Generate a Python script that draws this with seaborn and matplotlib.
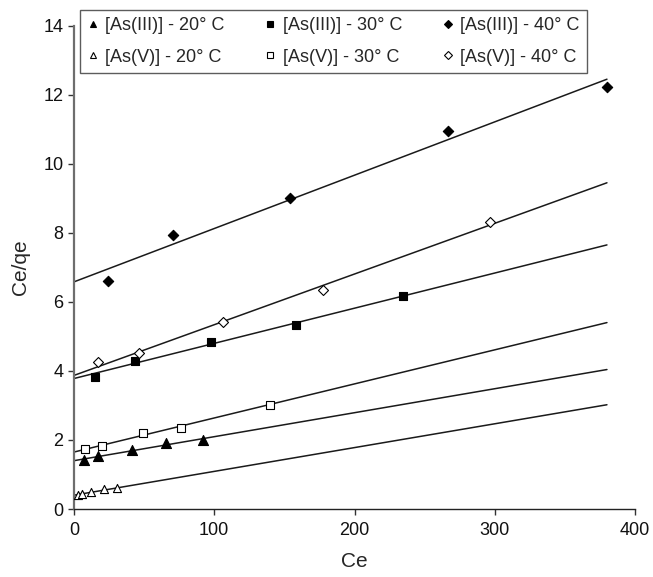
import numpy as np
import pandas as pd
import matplotlib
matplotlib.use("Agg")
import matplotlib.pyplot as plt
import seaborn as sns

# ---- data ----
series_labels = ["[As(III)] - 20° C", "[As(V)] - 20° C",
                 "[As(III)] - 30° C", "[As(V)] - 30° C",
                 "[As(III)] - 40° C", "[As(V)] - 40° C"]

as3_20_ce = [6.9, 17.4, 41.4, 65.6, 92.0]
as3_20_y = [1.41, 1.53, 1.71, 1.90, 1.99]

as5_20_ce = [2.6, 5.7, 12.1, 21.4, 30.4]
as5_20_y = [0.41, 0.44, 0.48, 0.59, 0.61]

as3_30_ce = [15.2, 43.5, 97.7, 158.0, 234.4]
as3_30_y = [3.83, 4.29, 4.84, 5.33, 6.16]

as5_30_ce = [7.8, 20.0, 49.0, 76.0, 139.7]
as5_30_y = [1.74, 1.82, 2.19, 2.34, 3.02]

as3_40_ce = [24.0, 70.8, 154.0, 266.4, 380.3]
as3_40_y = [6.60, 7.93, 9.00, 10.95, 12.22]

as5_40_ce = [17.3, 46.3, 106.2, 177.3, 296.6]
as5_40_y = [4.27, 4.53, 5.41, 6.33, 8.30]

# fitted lines (value at Ce = 0 and at Ce = 380)
fit_ce = [0, 380]
fit_start = [1.40, 0.40, 3.78, 1.65, 6.58, 3.87]
fit_end = [4.04, 3.02, 7.65, 5.40, 12.45, 9.45]

xs = [as3_20_ce, as5_20_ce, as3_30_ce, as5_30_ce, as3_40_ce, as5_40_ce]
ys = [as3_20_y, as5_20_y, as3_30_y, as5_30_y, as3_40_y, as5_40_y]

x_ticks = [0, 100, 200, 300, 400]
y_ticks = [0, 2, 4, 6, 8, 10, 12, 14]

# ---- styling ----
sns.set_style("ticks")
plt.rcParams["font.family"] = ["Liberation Sans", "DejaVu Sans"]

markers = ["^", "^", "s", "s", "D", "D"]
filled = [True, False, True, False, True, False]
msizes = [52, 34, 32, 32, 28, 26]

fig = plt.figure(figsize=(6.53, 5.77), dpi=100)
ax = fig.add_axes([74 / 653, 1 - 509 / 577, (635 - 74) / 653, (509 - 25.7) / 577])

# lines
for i in range(6):
    ldf = pd.DataFrame({"Ce": fit_ce, "y": [fit_start[i], fit_end[i]]})
    sns.lineplot(data=ldf, x="Ce", y="y", ax=ax, color="#1a1a1a",
                 linewidth=1.1, legend=False, zorder=2)

# points
handles = []
for i in range(6):
    df = pd.DataFrame({"Ce": xs[i], "y": ys[i]})
    fc = "black" if filled[i] else "white"
    sns.scatterplot(data=df, x="Ce", y="y", ax=ax, marker=markers[i],
                    s=msizes[i], facecolor=fc, edgecolor="black",
                    linewidth=0.8, zorder=3, legend=False)
    handles.append(plt.Line2D([], [], linestyle="none", marker=markers[i],
                              markersize=5 if markers[i] != "D" else 4,
                              markerfacecolor=fc, markeredgecolor="black",
                              markeredgewidth=0.8))

ax.set_xlim(0, 400)
ax.set_ylim(0, 14)
ax.set_xticks(x_ticks)
ax.set_yticks(y_ticks)
ax.tick_params(axis="both", labelsize=13, length=4.5, width=1, direction="out",
               colors="#333333", labelcolor="#111111")
ax.tick_params(axis="x", pad=5)
ax.tick_params(axis="y", pad=3)
ax.set_xlabel("Ce", fontsize=15, labelpad=9)
ax.set_ylabel("Ce/qe", fontsize=15, labelpad=10)
sns.despine(ax=ax)
ax.spines["left"].set_color("#6e6e6e")
ax.spines["left"].set_linewidth(1.6)
ax.spines["bottom"].set_color("#222222")
ax.spines["bottom"].set_linewidth(1.0)

leg = fig.legend(handles, series_labels, ncol=3,
                 bbox_to_anchor=(80 / 653, 1 - 76 / 577, (587 - 80) / 653, 66 / 577),
                 loc="upper left", mode="expand", fontsize=13,
                 frameon=True, fancybox=False, borderaxespad=0,
                 handletextpad=0.4, columnspacing=0.8, handlelength=0.6,
                 labelspacing=0.8, borderpad=0.4)
leg.get_frame().set_edgecolor("#333333")
leg.get_frame().set_linewidth(1.0)

fig.savefig("out.png", dpi=100)
